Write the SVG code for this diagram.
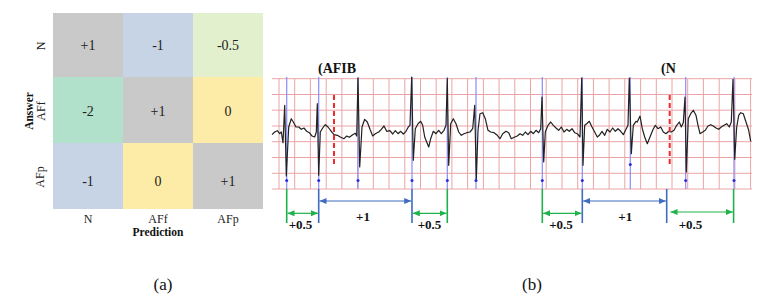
<svg xmlns="http://www.w3.org/2000/svg" width="775" height="308" viewBox="0 0 775 308">
<defs>
<style>
.num{font-family:"Liberation Serif",serif;font-size:14px;fill:#222;text-anchor:middle}
.lab{font-family:"Liberation Serif",serif;font-size:12px;fill:#222;text-anchor:middle}
.bl{font-family:"Liberation Serif",serif;font-size:11.5px;font-weight:bold;fill:#111;text-anchor:middle}
.ann{font-family:"Liberation Serif",serif;font-size:14px;font-weight:bold;fill:#111}
.sc{font-family:"Liberation Serif",serif;font-size:13px;font-weight:bold;fill:#111;text-anchor:middle}
.cap{font-family:"Liberation Serif",serif;font-size:17px;fill:#111;text-anchor:middle}
.gr{stroke:#eaa4a8;stroke-width:1;fill:none}
.mk{stroke:#8a8cf5;stroke-width:1.2;fill:none}
.dot{fill:#2a2ae0}
.g{stroke:#1fb14a;stroke-width:1.6;fill:none}
.b{stroke:#3f6cc0;stroke-width:1.6;fill:none}
.ga{stroke:#1fb14a;stroke-width:1.2;fill:none;marker-start:url(#gs);marker-end:url(#ge)}
.ba{stroke:#3f6cc0;stroke-width:1.2;fill:none;marker-start:url(#bs);marker-end:url(#be)}
</style>
<marker id="ge" markerWidth="8" markerHeight="6" refX="7" refY="3" orient="auto" markerUnits="userSpaceOnUse"><path d="M0,0 L7,3 L0,6 z" fill="#1fb14a"/></marker>
<marker id="gs" markerWidth="8" markerHeight="6" refX="1" refY="3" orient="auto" markerUnits="userSpaceOnUse"><path d="M8,0 L1,3 L8,6 z" fill="#1fb14a"/></marker>
<marker id="be" markerWidth="8" markerHeight="6" refX="7" refY="3" orient="auto" markerUnits="userSpaceOnUse"><path d="M0,0 L7,3 L0,6 z" fill="#3f6cc0"/></marker>
<marker id="bs" markerWidth="8" markerHeight="6" refX="1" refY="3" orient="auto" markerUnits="userSpaceOnUse"><path d="M8,0 L1,3 L8,6 z" fill="#3f6cc0"/></marker>
</defs>
<rect width="775" height="308" fill="#fff"/>

<!-- (a) matrix -->
<g id="matrix">
<g id="c-N-N"><rect x="53" y="13" width="70" height="64" fill="#c9c9c9"/><text class="num" x="88" y="50">+1</text></g>
<g id="c-N-AFf"><rect x="123" y="13" width="70" height="64" fill="#c7d4e6"/><text class="num" x="158" y="50">-1</text></g>
<g id="c-N-AFp"><rect x="193" y="13" width="70" height="64" fill="#e3f0cd"/><text class="num" x="228" y="50">-0.5</text></g>
<g id="c-AFf-N"><rect x="53" y="77" width="70" height="66" fill="#b1e0cb"/><text class="num" x="88" y="116">-2</text></g>
<g id="c-AFf-AFf"><rect x="123" y="77" width="70" height="66" fill="#c9c9c9"/><text class="num" x="158" y="116">+1</text></g>
<g id="c-AFf-AFp"><rect x="193" y="77" width="70" height="66" fill="#fdeca7"/><text class="num" x="228" y="116">0</text></g>
<g id="c-AFp-N"><rect x="53" y="143" width="70" height="66" fill="#c7d4e6"/><text class="num" x="88" y="186">-1</text></g>
<g id="c-AFp-AFf"><rect x="123" y="143" width="70" height="66" fill="#fdeca7"/><text class="num" x="158" y="186">0</text></g>
<g id="c-AFp-AFp"><rect x="193" y="143" width="70" height="66" fill="#c9c9c9"/><text class="num" x="228" y="186">+1</text></g>
</g>
<g id="axis-labels">
<text class="lab" x="88" y="223">N</text>
<text class="lab" x="158" y="223">AFf</text>
<text class="lab" x="228" y="223">AFp</text>
<text class="bl" x="158" y="236">Prediction</text>
<text class="lab" transform="translate(45,46) rotate(-90)">N</text>
<text class="lab" transform="translate(45,111) rotate(-90)">AFf</text>
<text class="lab" transform="translate(44,177) rotate(-90)">AFp</text>
<text class="bl" transform="translate(33,111) rotate(-90)">Answer</text>
</g>

<!-- (b) ECG -->
<g id="ecg-grid" class="gr">
<path d="M272,78.7H752M272,94.5H752M272,110.2H752M272,126H752M272,141.7H752M272,157.5H752M272,173.3H752M272,189H752"/>
<path d="M279,78.7V189M294.7,78.7V189M310.4,78.7V189M326.2,78.7V189M341.9,78.7V189M357.6,78.7V189M373.3,78.7V189M389,78.7V189M404.8,78.7V189M420.5,78.7V189M436.2,78.7V189M451.9,78.7V189M467.6,78.7V189M483.4,78.7V189M499.1,78.7V189M514.8,78.7V189M530.5,78.7V189M546.2,78.7V189M562,78.7V189M577.7,78.7V189M593.4,78.7V189M609.1,78.7V189M624.8,78.7V189M640.6,78.7V189M656.3,78.7V189M672,78.7V189M687.7,78.7V189M703.4,78.7V189M719.2,78.7V189M734.9,78.7V189M750.6,78.7V189"/>
</g>
<g id="r-markers" class="mk">
<path d="M286.7,77V189M318.7,77V189M358,77V189M412,77V189M447.3,77V189M476,77V189M542.3,77V189M582.3,77V189M630.3,77V189M685.7,77V189M734,77V189"/>
</g>
<g id="ecg-trace">
<polyline fill="none" stroke="#222" stroke-width="1.2" stroke-linejoin="round" points="272,134.7 274.7,132 277.3,130.7 279.7,133.7 281.3,132 283,142.7 284.7,105.3 286.3,176 288.7,127 291.3,118.7 293.3,122 296,127 298.7,127 301.3,129.3 304,128 306.7,131.3 309.3,132.7 312,136 314.7,137 316.3,132 317.3,103.7 318.7,175.3 320.3,132 322.7,128 325.3,124.7 328,127 331.3,131.3 334,134.7 337.3,135.3 340.7,137.3 344,138.7 346.7,136 349.3,137.3 352.7,134.7 355.3,133.3 356.7,136 358,78 359.7,167 362,127 364.7,119.3 367.3,122 370,129.3 372.7,136 375.3,133.7 378.7,132 381.3,129.3 384,126 386.7,131.3 390,130.7 392.7,134 395.3,130.7 398,133.7 400.7,131.3 403.3,134 406,131.3 408.3,127 410,125.3 411.7,77 413.3,160.3 415.3,128.7 418,123.7 420.7,121.3 422.7,125.3 424.7,137 426.7,142 428.7,147 430.7,138.7 433.3,131.3 436,133.7 438.7,130.3 441.3,133.7 444,130.3 446,125.3 447.3,78.7 448.7,165.3 450.7,123.7 453.3,118.7 456,123.7 458.7,132 461.3,135.3 464,133.7 466.7,132.7 470,132 472.7,128.7 474.7,105.3 476.3,180 478,130.3 480,113.7 482.7,112.7 485.3,118.7 488,130.3 490.7,132 494,132.7 497.3,135.3 500,138.7 502.7,133.7 506,131.3 508.7,132.7 511.3,138.7 514.7,137 517.3,136 520,133.7 522.7,135.3 525.3,132 528,134.7 530.7,131.3 533.3,133.7 536,130.3 538.7,132.7 540.7,128.7 542,97 543.7,162 545.3,132 548,125.3 550.7,122 553.3,125.3 556,128 558.7,130.3 561.3,127 564,132 566.7,129.3 569.3,131.3 572,128.7 574.7,132.7 577.3,133.7 580,137 581.7,78 583,165.3 584.7,125.3 586.7,123.7 589.3,121.3 592,127 594.7,132 597.3,137 599.3,135.3 602,131.3 604.7,135.3 607.3,129.3 610,132 612.7,128 615.3,131.3 618,128.7 620.7,131.3 623.3,134.7 626,129.3 628,125.3 629.3,78 631.3,153.7 633.3,125.3 636,121.3 637.3,122 640,116 642.3,128.7 644.7,137 647.3,143.7 650,137 652.7,130.3 655.3,125.3 658,128.7 660.7,127 663.3,132 666,133.7 668.7,131.3 671.3,132 674,130.3 676.7,125.3 679.3,122 681.3,127 683.3,122.7 685,97 686.3,172 688.3,118.7 690.7,113.7 693.3,110.3 696,115.3 698,125.3 700,133.7 702.7,132 705.3,130.3 708,126 710.7,124.7 713.3,126 716,128 718.7,129.3 721.3,127 724,125.3 726.7,123.7 729.3,127 731.3,122 733,79.3 734.7,159.3 736.7,127 738.7,115.3 740.7,112.7 743.3,113.7 746,122 748.7,130.3 750.7,141.3"/>
</g>
<g id="r-dots" class="dot">
<circle cx="286.7" cy="180.5" r="1.5"/><circle cx="318.7" cy="180.5" r="1.5"/><circle cx="358" cy="180.5" r="1.5"/><circle cx="412" cy="180.5" r="1.5"/><circle cx="447.3" cy="180.5" r="1.5"/><circle cx="476" cy="180.5" r="1.5"/><circle cx="542.3" cy="180.5" r="1.5"/><circle cx="582.3" cy="180.5" r="1.5"/><circle cx="630.3" cy="164.5" r="1.5"/><circle cx="685.7" cy="180.5" r="1.5"/><circle cx="734" cy="180.5" r="1.5"/>
</g>
<g id="onsets" stroke="#ee2a2a" stroke-width="2" stroke-dasharray="5,3" fill="none">
<path d="M334,95V167M669.7,95V167"/>
</g>
<g id="label-afib"><text class="ann" x="318" y="72.5">(AFIB</text></g>
<g id="label-n"><text class="ann" x="661" y="72.5">(N</text></g>

<g id="connectors">
<path class="g" d="M286.7,189V223M447.3,189V223M542.3,189V223M733.6,189V223"/>
<path class="b" d="M318.7,189V223M412,189V223M582.3,189V223M666.7,189V223"/>
<path class="ga" d="M287.5,213.3H318"/>
<path class="ba" d="M319.5,201H411.2"/>
<path class="ga" d="M412.8,213.3H446.5"/>
<path class="ga" d="M543.1,213.3H581.5"/>
<path class="ba" d="M583.1,201H665.9"/>
<path class="ga" d="M670.5,212H732.8"/>
</g>
<g id="scores">
<text class="sc" x="300.5" y="228.5">+0.5</text>
<text class="sc" x="363" y="220.5">+1</text>
<text class="sc" x="429.5" y="228.5">+0.5</text>
<text class="sc" x="561" y="228.5">+0.5</text>
<text class="sc" x="625.3" y="221">+1</text>
<text class="sc" x="690.5" y="228.5">+0.5</text>
</g>
<g id="captions">
<text class="cap" x="163" y="290">(a)</text>
<text class="cap" x="532" y="290">(b)</text>
</g>
</svg>
